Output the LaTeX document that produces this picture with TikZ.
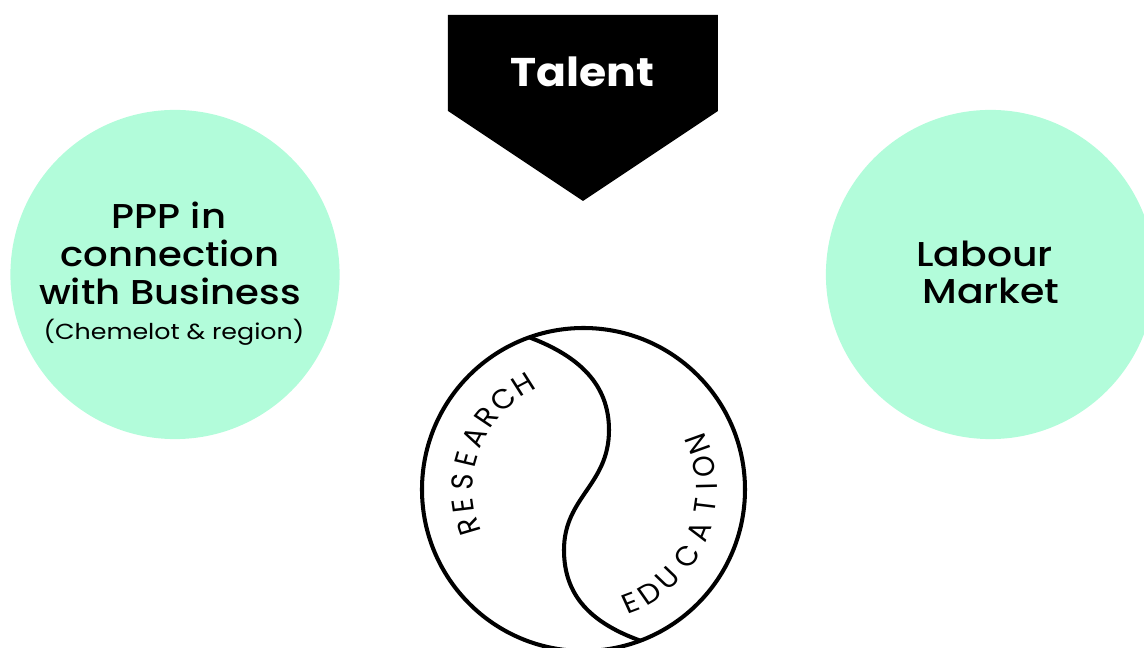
\documentclass[tikz,border=0pt]{standalone}
\usepackage{fontspec}
\setmainfont{Poppins}
\newfontfamily\pmed{Poppins Medium}
\newfontfamily\plight{Poppins Light}
\usetikzlibrary{calc}
\definecolor{mint}{HTML}{B2FCDA}
\begin{document}
\begin{tikzpicture}[x=0.01cm,y=0.01cm,
  bubble/.style={circle,fill=mint,minimum size=3.29cm,inner sep=0pt},
  bigtxt/.style={anchor=base,inner sep=0pt,xscale=1.12,font=\pmed\fontsize{9.8}{12}\selectfont},
  smalltxt/.style={anchor=base,inner sep=0pt,xscale=1.16,font=\fontsize{6.2}{8}\selectfont},
  talenttxt/.style={anchor=base,inner sep=0pt,xscale=1.1,text=white,font=\bfseries\fontsize{11.4}{14}\selectfont},
  arcletter/.style={inner sep=0pt,xscale=1.1,font=\fontsize{7.8}{9}\selectfont},
  yy/.style={line width=1.15pt,black}]
\clip (0,0) rectangle (1144,648);
% side bubbles
\node[bubble] (ppp) at (175,373.5) {};
\node[bubble] (lab) at (990.5,373.5) {};
\node[bigtxt] (ppp1) at (169,419) {PPP in};
\node[bigtxt] (ppp2) at (170,381) {connection};
\node[bigtxt] (ppp3) at (170,343) {with Business};
\node[smalltxt] (ppp4) at (174,308.7) {(Chemelot \& region)};
\node[bigtxt,xscale=1.02] (lab1) at (984.5,381) {Labour};
\node[bigtxt,xscale=1.02] (lab2) at (991,344) {Market};
% talent arrow
\fill[black] (448,633) -- (718,633) -- (718,537) -- (583,447) -- (448,537) -- cycle;
\node[talenttxt] (talent) at (582.5,561) {Talent};
% yin-yang
\coordinate (O) at (583.5,158.5);
\coordinate (yA) at ($(O)+(109.6:161.5)$);
\coordinate (yR) at (609,218);
\coordinate (yL) at (564,98);
\coordinate (yB) at ($(O)+(-69.4:161.5)$);
\draw[yy] (O) circle[radius=161.5];
\draw[yy] (yA) .. controls (580,291.5) and (609,263) .. (yR)
              .. controls (609,163) and (564,151) .. (yL)
              .. controls (564,53) and (590,25.5) .. (yB);
\foreach \ch/\a [count=\i] in {R/198,E/187.5,S/176.5,E/165.5,A/154.5,R/143.5,C/131.5,H/120}
  \node[arcletter,rotate=\a-90] (res\i) at ($(O)+(\a:121)$) {\ch};
\foreach \ch/\a [count=\i] in {E/-67.5,D/-57.5,U/-46.5,C/-33,A/-20,T/-7.5,I/1.5,O/10.5,N/21.5}
  \node[arcletter,rotate=\a+90] (edu\i) at ($(O)+(\a:123)$) {\ch};
\end{tikzpicture}
\end{document}
